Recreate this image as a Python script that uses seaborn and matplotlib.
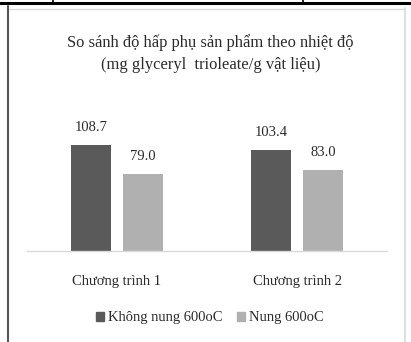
import matplotlib
matplotlib.use("Agg")
import matplotlib.pyplot as plt
from matplotlib.lines import Line2D
import pandas as pd
import seaborn as sns

# Data
categories = ["Chương trình 1", "Chương trình 2"]
series_names = ["Không nung 600oC", "Nung 600oC"]
unheated = [108.7, 103.4]
heated = [79.0, 83.0]
colors = ["#5a5a5a", "#b0b0b0"]

df = pd.DataFrame({
    "category": categories * 2,
    "series": [series_names[0]] * 2 + [series_names[1]] * 2,
    "value": unheated + heated,
})

sns.set_theme(style="white")
plt.rcParams["font.family"] = ["Liberation Serif", "DejaVu Serif"]

W, H = 411, 342
fig = plt.figure(figsize=(W / 100, H / 100), dpi=100)

# frame lines around the chart area (pixel coordinates from the top-left)
def hline(x0, x1, y, color, lw):
    fig.add_artist(Line2D([x0 / W, x1 / W], [1 - y / H, 1 - y / H], color=color, lw=lw))

def vline(x, y0, y1, color, lw):
    fig.add_artist(Line2D([x / W, x / W], [1 - y0 / H, 1 - y1 / H], color=color, lw=lw))

hline(0, W, 2.5, "#000000", 2.2)
vline(53, 0, 3, "#000000", 1.2)
vline(303, 0, 3, "#000000", 1.2)
hline(8, 404, 8.5, "#d9d9d9", 1.0)
vline(404.5, 8, H, "#d9d9d9", 1.2)
vline(7.5, 6, H, "#555555", 1.5)

# plot area
ax_left, ax_right = 27, 387
ax_base, ax_top = 251, 100
ymax = 155
ax = fig.add_axes([ax_left / W, 1 - ax_base / H, (ax_right - ax_left) / W, (ax_base - ax_top) / H])
ax.patch.set_alpha(0)

sns.barplot(data=df, x="category", y="value", hue="series", order=categories,
            hue_order=series_names, palette=colors, width=0.58, gap=0.23,
            ax=ax, legend=False, saturation=1, edgecolor="none")

ax.set_xlim(-0.5, 1.5)
ax.set_ylim(0, ymax)
for s in ["top", "right", "left"]:
    ax.spines[s].set_visible(False)
ax.spines["bottom"].set_color("#d9d9d9")
ax.spines["bottom"].set_linewidth(1.0)
ax.set_yticks([])
ax.set_xlabel("")
ax.set_ylabel("")
ax.tick_params(axis="x", length=0, pad=17, labelsize=10.5, colors="#2b2b2b")

for cont in ax.containers:
    ax.bar_label(cont, fmt="%.1f", padding=8, fontsize=10.5, color="#2b2b2b")

fig.text(0.512, 1 - 43 / H, "So sánh độ hấp phụ sản phẩm theo nhiệt độ",
         ha="center", va="center", fontsize=11.9, color="#2b2b2b")
fig.text(0.512, 1 - 65 / H, "(mg glyceryl  trioleate/g vật liệu)",
         ha="center", va="center", fontsize=11.9, color="#2b2b2b")

handles = [plt.Rectangle((0, 0), 1, 1, color=c) for c in colors]
fig.legend(handles, series_names, loc="center", bbox_to_anchor=(0.511, 1 - 318 / H),
           ncol=2, frameon=False, fontsize=10.5, handlelength=0.55, handleheight=0.55,
           handletextpad=0.25, columnspacing=1.0, labelcolor="#2b2b2b")

fig.savefig("out.png", dpi=100)
